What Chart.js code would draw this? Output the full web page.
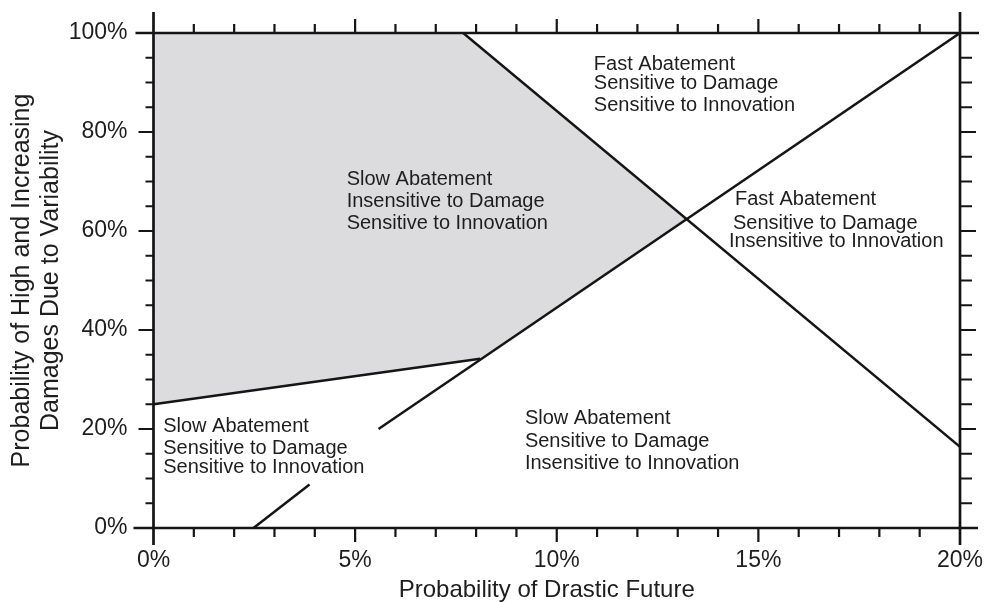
<!DOCTYPE html>
<html>
<head>
<meta charset="utf-8">
<script src="https://cdn.jsdelivr.net/npm/chart.js@4.4.1/dist/chart.umd.min.js"></script>
<style>
  body { margin: 0; background: #fff; }
  #wrap { width: 991px; height: 602px; }
</style>
</head>
<body>
<div id="wrap"><canvas id="myChart" width="991" height="602"></canvas></div>
<script>
// axis ticks (percent)
const xTickValues = [0, 5, 10, 15, 20];
const yTickValues = [0, 20, 40, 60, 80, 100];

// boundary lines: x = probability of drastic future (%), y = probability of high damages (%)
const shadedX = [0, 0, 7.68, 13.23, 8.1, 0];
const shadedY = [25, 100, 100, 62.4, 34.2, 25];
const shadeEdgeX = [0, 8.1];
const shadeEdgeY = [25, 34.2];
const risingUpperX = [5.58, 20];
const risingUpperY = [20, 100];
const risingLowerX = [2.48, 3.87];
const risingLowerY = [0, 8.8];
const fallingX = [7.68, 20];
const fallingY = [100, 16.4];

// region texts
const regionText = [
  ['Slow Abatement', 'Insensitive to Damage', 'Sensitive to Innovation'],
  ['Fast Abatement', 'Sensitive to Damage', 'Sensitive to Innovation'],
  ['Fast Abatement', 'Sensitive to Damage', 'Insensitive to Innovation'],
  ['Slow Abatement', 'Sensitive to Damage', 'Sensitive to Innovation'],
  ['Slow Abatement', 'Sensitive to Damage', 'Insensitive to Innovation']
];

// where each text line sits, in axis units [x, y]
const regionSpots = [
  [[4.79, 70.5], [4.79, 65.9], [4.79, 61.6]],
  [[10.92, 93.7], [10.92, 89.9], [10.92, 85.3]],
  [[14.42, 66.3], [14.37, 61.6], [14.27, 57.8]],
  [[0.24, 20.6], [0.24, 16.0], [0.24, 12.3]],
  [[9.21, 22.2], [9.21, 17.4], [9.21, 13.1]]
];

const FONT = 'Liberation Sans, Arial, Helvetica, sans-serif';
const INK = '#151515';

function pts(xs, ys) {
  return xs.map((x, i) => ({ x: x, y: ys[i] }));
}

function seg(xs, ys) {
  return {
    data: pts(xs, ys),
    showLine: true,
    borderColor: INK,
    borderWidth: 2.5,
    pointRadius: 0,
    fill: false
  };
}

function noPad(s) {
  s.paddingLeft = 0;
  s.paddingRight = 0;
  s.paddingTop = 0;
  s.paddingBottom = 0;
}

const frame = {
  id: 'frame',
  afterDraw(chart) {
    const { ctx, chartArea: a, scales: { x, y } } = chart;
    ctx.save();
    ctx.strokeStyle = INK;
    ctx.lineWidth = 2.7;
    ctx.beginPath();
    ctx.moveTo(a.left - 18, a.top); ctx.lineTo(a.right + 19, a.top);
    ctx.moveTo(a.left - 20, a.bottom); ctx.lineTo(a.right + 18, a.bottom);
    ctx.moveTo(a.left, a.top - 21); ctx.lineTo(a.left, a.bottom + 17);
    ctx.moveTo(a.right, a.top - 21); ctx.lineTo(a.right, a.bottom + 17);
    ctx.stroke();
    ctx.lineWidth = 2.2;
    ctx.beginPath();
    for (let v = 1; v < 20; v++) {
      const px = x.getPixelForValue(v);
      const len = v % 5 === 0 ? 14 : 9;
      ctx.moveTo(px, a.bottom); ctx.lineTo(px, a.bottom + len);
      ctx.moveTo(px, a.top); ctx.lineTo(px, a.top - len);
    }
    for (let v = 5; v < 100; v += 5) {
      const py = y.getPixelForValue(v);
      const len = v % 20 === 0 ? 15 : 8;
      ctx.moveTo(a.left, py); ctx.lineTo(a.left - len, py);
      ctx.moveTo(a.right, py); ctx.lineTo(a.right + (v % 20 === 0 ? 16 : 12), py);
    }
    ctx.stroke();
    ctx.restore();
  }
};

const regionLabels = {
  id: 'regionLabels',
  afterDatasetsDraw(chart) {
    const { ctx, scales: { x, y } } = chart;
    ctx.save();
    ctx.fillStyle = '#1e1e1e';
    ctx.font = '20px ' + FONT;
    ctx.textAlign = 'left';
    ctx.textBaseline = 'middle';
    regionText.forEach((lines, i) => {
      lines.forEach((t, j) => {
        const p = regionSpots[i][j];
        ctx.fillText(t, x.getPixelForValue(p[0]), y.getPixelForValue(p[1]));
      });
    });
    ctx.restore();
  }
};

const ctx = document.getElementById('myChart').getContext('2d');
const myChart = new Chart(ctx, {
  type: 'scatter',
  data: {
    datasets: [
      seg(shadeEdgeX, shadeEdgeY),
      seg(risingUpperX, risingUpperY),
      seg(risingLowerX, risingLowerY),
      seg(fallingX, fallingY),
      {
        data: pts(shadedX, shadedY),
        showLine: true,
        borderWidth: 0,
        borderColor: 'rgba(0,0,0,0)',
        backgroundColor: '#dcdbdd',
        pointRadius: 0,
        fill: 'shape'
      }
    ]
  },
  options: {
    responsive: false,
    animation: false,
    events: [],
    layout: { padding: { top: 33, right: 31, bottom: 0, left: 0 } },
    plugins: {
      legend: { display: false },
      tooltip: { enabled: false }
    },
    scales: {
      x: {
        type: 'linear',
        min: 0,
        max: 20,
        afterBuildTicks: s => { s.ticks = xTickValues.map(v => ({ value: v })); },
        afterFit: s => { s.height = 74; noPad(s); },
        grid: { display: false, drawTicks: false },
        border: { display: false },
        ticks: {
          callback: v => v + '%',
          color: '#1e1e1e',
          font: { family: FONT, size: 23 },
          padding: 19,
          maxRotation: 0,
          autoSkip: false
        },
        title: {
          display: true,
          // trailing no-break spaces nudge the title a little left, as in the original
          text: 'Probability of Drastic Future\u00a0\u00a0\u00a0',
          color: '#1e1e1e',
          font: { family: FONT, size: 24, lineHeight: 1 },
          padding: { top: 0, bottom: 0 }
        }
      },
      y: {
        type: 'linear',
        min: 0,
        max: 100,
        afterBuildTicks: s => { s.ticks = yTickValues.map(v => ({ value: v })); },
        afterFit: s => { s.width = 153.5; noPad(s); },
        grid: { display: false, drawTicks: false },
        border: { display: false },
        ticks: {
          callback: v => v + '%',
          color: '#1e1e1e',
          font: { family: FONT, size: 23 },
          padding: 26
        },
        title: {
          display: true,
          text: ['Probability of High and Increasing', 'Damages Due to Variability'],
          color: '#1e1e1e',
          font: { family: FONT, size: 25, lineHeight: 1.15 },
          padding: { top: 7.5, bottom: 0 }
        }
      }
    }
  },
  plugins: [regionLabels, frame]
});
</script>
</body>
</html>
